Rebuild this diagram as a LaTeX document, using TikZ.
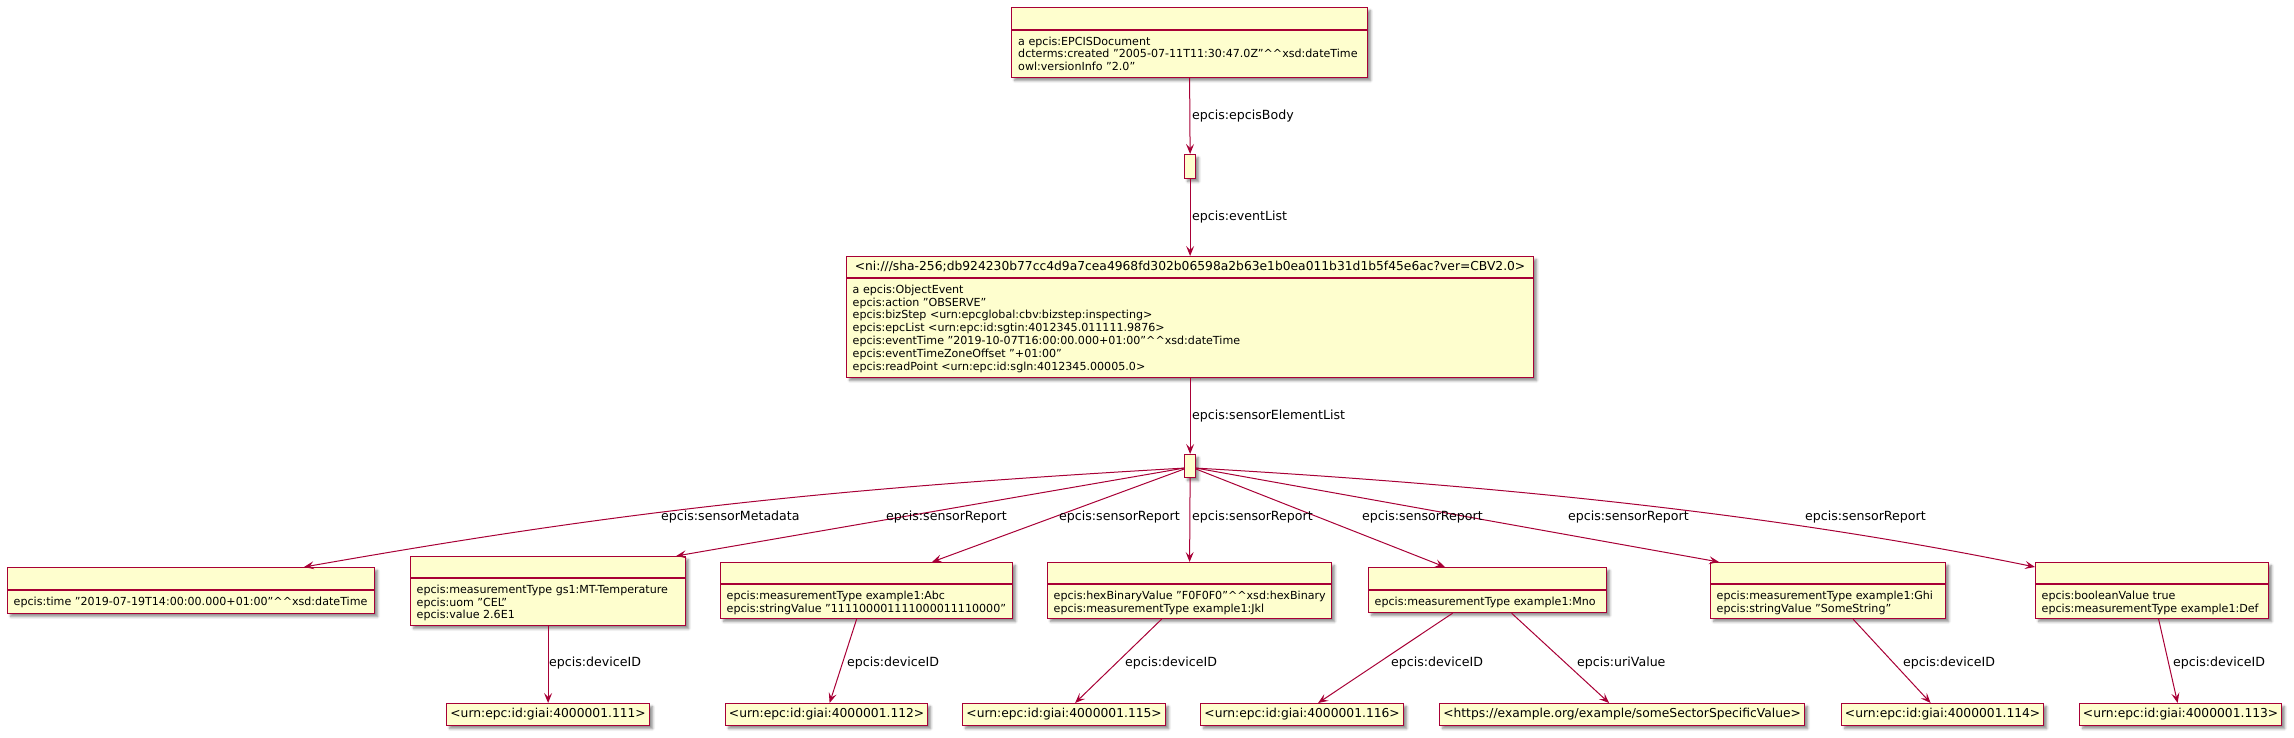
\documentclass[tikz,border=0pt]{standalone}
\usepackage{fontspec}
\setmainfont{DejaVu Sans}
\usetikzlibrary{arrows.meta,calc,shadows.blur}
\definecolor{pfill}{HTML}{FEFECE}
\definecolor{pline}{HTML}{A80036}
\newcommand{\hh}{\textasciicircum\textasciicircum}
\tikzset{
 objbox/.style={draw=pline, fill=pfill, line width=1.2pt, inner sep=0pt, anchor=north west,
   blur shadow={shadow xshift=3pt, shadow yshift=-3pt, shadow blur radius=2.5pt, shadow blur steps=5, shadow opacity=45}},
 sepline/.style={draw=pline, line width=1.2pt},
 body/.style={anchor=north west, inner sep=0pt, align=left, font=\fontsize{11.1}{12.8}\selectfont},
 hdr/.style={inner sep=0pt, font=\fontsize{12.3}{14}\selectfont},
 urnbox/.style={objbox, minimum height=22pt, font=\fontsize{12.3}{14}\selectfont},
 rel/.style={draw=pline, line width=1pt, -{Stealth[length=10pt,width=8pt,inset=4pt]}},
 lbl/.style={anchor=west, inner sep=0pt, font=\fontsize{12.6}{15}\selectfont},
}
\begin{document}
\begin{tikzpicture}[x=1pt, y=-1pt]
\useasboundingbox (0,0) rectangle (2294,738);
% top document box
\node[objbox, minimum width=356pt, minimum height=70pt] (top) at (1011,7) {};
\draw[sepline] ($(top.north west)+(0,23)$) -- ($(top.north east)+(0,23)$);
\node[body] (topt) at ($(top.north west)+(7,29)$) {\rule{0pt}{9pt}a epcis:EPCISDocument\\dcterms:created "2005-07-11T11:30:47.0Z"\hh xsd:dateTime\\owl:versionInfo "2.0"};
% blank nodes
\node[objbox, minimum width=11pt, minimum height=24pt] (sb1) at (1184,154) {};
\node[objbox, minimum width=11pt, minimum height=23pt] (sb2) at (1184,454) {};
% event
\node[objbox, minimum width=687pt, minimum height=121pt] (event) at (846,256) {};
\draw[sepline] ($(event.north west)+(0,22)$) -- ($(event.north east)+(0,22)$);
\node[hdr] (evh) at ($(event.north)+(0,11)$) {<ni:///sha-256;db924230b77cc4d9a7cea4968fd302b06598a2b63e1b0ea011b31d1b5f45e6ac?ver=CBV2.0>};
\node[body] (evt) at ($(event.north west)+(6.5,28)$) {\rule{0pt}{9pt}a epcis:ObjectEvent\\epcis:action "OBSERVE"\\epcis:bizStep <urn:epcglobal:cbv:bizstep:inspecting>\\epcis:epcList <urn:epc:id:sgtin:4012345.011111.9876>\\epcis:eventTime "2019-10-07T16:00:00.000+01:00"\hh xsd:dateTime\\epcis:eventTimeZoneOffset "+01:00"\\epcis:readPoint <urn:epc:id:sgln:4012345.00005.0>};
% sensor element boxes
\node[objbox, minimum width=367pt, minimum height=46pt] (meta) at (7,567) {};
\draw[sepline] ($(meta.north west)+(0,23)$) -- ($(meta.north east)+(0,23)$);
\node[body] (metat) at ($(meta.north west)+(6.5,29)$) {\rule{0pt}{9pt}epcis:time "2019-07-19T14:00:00.000+01:00"\hh xsd:dateTime};

\node[objbox, minimum width=275pt, minimum height=69pt] (mt) at (410,556) {};
\draw[sepline] ($(mt.north west)+(0,22)$) -- ($(mt.north east)+(0,22)$);
\node[body] (mtt) at ($(mt.north west)+(6.5,28)$) {\rule{0pt}{9pt}epcis:measurementType gs1:MT-Temperature\\epcis:uom "CEL"\\epcis:value 2.6E1};

\node[objbox, minimum width=292pt, minimum height=56pt] (abc) at (720,562) {};
\draw[sepline] ($(abc.north west)+(0,22)$) -- ($(abc.north east)+(0,22)$);
\node[body] (abct) at ($(abc.north west)+(6.5,28)$) {\rule{0pt}{9pt}epcis:measurementType example1:Abc\\epcis:stringValue "111100001111000011110000"};

\node[objbox, minimum width=284pt, minimum height=56pt] (hex) at (1047,562) {};
\draw[sepline] ($(hex.north west)+(0,22)$) -- ($(hex.north east)+(0,22)$);
\node[body] (hext) at ($(hex.north west)+(6.5,28)$) {\rule{0pt}{9pt}epcis:hexBinaryValue "F0F0F0"\hh xsd:hexBinary\\epcis:measurementType example1:Jkl};

\node[objbox, minimum width=238pt, minimum height=45pt] (mno) at (1368,567) {};
\draw[sepline] ($(mno.north west)+(0,23)$) -- ($(mno.north east)+(0,23)$);
\node[body] (mnot) at ($(mno.north west)+(6.5,29)$) {\rule{0pt}{9pt}epcis:measurementType example1:Mno};

\node[objbox, minimum width=235pt, minimum height=56pt] (ghi) at (1710,562) {};
\draw[sepline] ($(ghi.north west)+(0,22)$) -- ($(ghi.north east)+(0,22)$);
\node[body] (ghit) at ($(ghi.north west)+(6.5,28)$) {\rule{0pt}{9pt}epcis:measurementType example1:Ghi\\epcis:stringValue "SomeString"};

\node[objbox, minimum width=233pt, minimum height=56pt] (def) at (2035,562) {};
\draw[sepline] ($(def.north west)+(0,22)$) -- ($(def.north east)+(0,22)$);
\node[body] (deft) at ($(def.north west)+(6.5,28)$) {\rule{0pt}{9pt}epcis:booleanValue true\\epcis:measurementType example1:Def};
% urn boxes
\node[urnbox, minimum width=203pt] (u111) at (446,703) {<urn:epc:id:giai:4000001.111>};
\node[urnbox, minimum width=202pt] (u112) at (725,703) {<urn:epc:id:giai:4000001.112>};
\node[urnbox, minimum width=203pt] (u115) at (962,703) {<urn:epc:id:giai:4000001.115>};
\node[urnbox, minimum width=203pt] (u116) at (1200,703) {<urn:epc:id:giai:4000001.116>};
\node[urnbox, minimum width=365pt] (uri) at (1439,703) {<https://example.org/example/someSectorSpecificValue>};
\node[urnbox, minimum width=202pt] (u114) at (1841,703) {<urn:epc:id:giai:4000001.114>};
\node[urnbox, minimum width=202pt] (u113) at (2079,703) {<urn:epc:id:giai:4000001.113>};
% connectors
\draw[rel] (top.south) -- (sb1.north);
\draw[rel] (sb1.south) -- (event.north);
\draw[rel] (event.south) -- (sb2.north);
\draw[rel] ($(sb2.west)+(0,2)$) .. controls (800,490) and (600,515) .. ($(meta.north west)+(297,0)$);
\draw[rel] ($(sb2.west)+(0,2)$) -- ($(mt.north east)+(-10,0)$);
\draw[rel] ($(sb2.west)+(0,3)$) -- ($(abc.north west)+(212,0)$);
\draw[rel] (sb2.south) -- (hex.north);
\draw[rel] ($(sb2.east)+(0,3)$) -- ($(mno.north west)+(77,0)$);
\draw[rel] ($(sb2.east)+(0,2)$) -- ($(ghi.north west)+(9,0)$);
\draw[rel] ($(sb2.east)+(0,2)$) .. controls (1580,490) and (1830,525) .. ($(def.north west)+(0,5)$);
\draw[rel] (mt.south) -- (u111.north);
\draw[rel] ($(abc.south)+(-10,0)$) -- ($(u112.north)+(3,0)$);
\draw[rel] ($(hex.south)+(-28,0)$) -- ($(u115.north)+(11,0)$);
\draw[rel] ($(mno.south)+(-35,0)$) -- ($(u116.north)+(16,0)$);
\draw[rel] ($(mno.south)+(24,0)$) -- ($(uri.north)+(-13,0)$);
\draw[rel] ($(ghi.south)+(25,0)$) -- ($(u114.north)+(-12,0)$);
\draw[rel] ($(def.south)+(6.5,0)$) -- ($(u113.north)+(-3,0)$);
% labels
\node[lbl] (l1) at (1192,116) {epcis:epcisBody};
\node[lbl] (l2) at (1192,217) {epcis:eventList};
\node[lbl] (l3) at (1192,416) {epcis:sensorElementList};
\node[lbl] (l4) at (661,517) {epcis:sensorMetadata};
\node[lbl] (l5) at (886,517) {epcis:sensorReport};
\node[lbl] (l6) at (1059,517) {epcis:sensorReport};
\node[lbl] (l7) at (1192,517) {epcis:sensorReport};
\node[lbl] (l8) at (1362,517) {epcis:sensorReport};
\node[lbl] (l9) at (1568,517) {epcis:sensorReport};
\node[lbl] (l10) at (1805,517) {epcis:sensorReport};
\node[lbl] (l11) at (549,663) {epcis:deviceID};
\node[lbl] (l12) at (847,663) {epcis:deviceID};
\node[lbl] (l13) at (1125,663) {epcis:deviceID};
\node[lbl] (l14) at (1391,663) {epcis:deviceID};
\node[lbl] (l15) at (1577,663) {epcis:uriValue};
\node[lbl] (l16) at (1903,663) {epcis:deviceID};
\node[lbl] (l17) at (2173,663) {epcis:deviceID};
\end{tikzpicture}
\end{document}
